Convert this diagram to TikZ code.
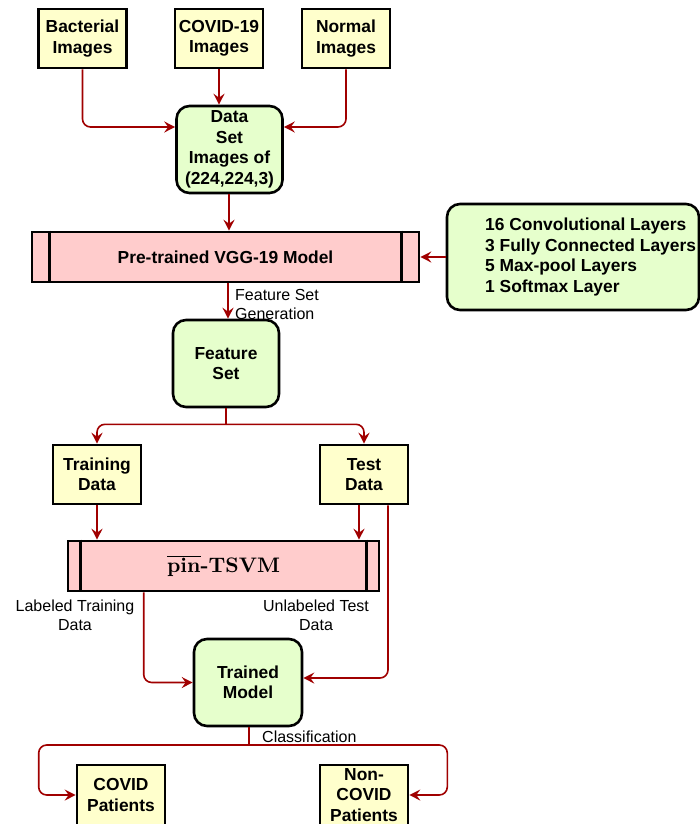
\documentclass[tikz,border=0pt]{standalone}
\usepackage{fontspec}
\newfontfamily\hv{Liberation Sans}
\newfontfamily\lmbold{lmroman10-bold.otf}
\usetikzlibrary{arrows.meta,calc}
\definecolor{yel}{RGB}{255,255,204}
\definecolor{grn}{RGB}{230,255,204}
\definecolor{pnk}{RGB}{255,204,204}
\definecolor{arr}{RGB}{160,0,0}
\tikzset{
  x=1pt, y=-1pt,
  btxt/.style={font=\hv\bfseries\fontsize{17.4}{20.5}\selectfont, align=center},
  ltxt/.style={font=\hv\fontsize{16}{19}\selectfont},
  ybox/.style={btxt, draw=black, line width=2.6pt, fill=yel, minimum width=88pt, minimum height=59pt, inner sep=0pt},
  gbox/.style={btxt, draw=black, line width=2.6pt, fill=grn, rounded corners=13pt, minimum width=106pt, minimum height=87pt, inner sep=0pt},
  pbox/.style={draw=black, line width=2.6pt, fill=pnk, inner sep=0pt},
  conn/.style={draw=arr, line width=1.6pt, rounded corners=8pt, -{Stealth[length=11pt,width=11pt,inset=4pt]}},
  plain/.style={draw=arr, line width=1.6pt, rounded corners=8pt},
}
\begin{document}
\begin{tikzpicture}
\useasboundingbox (0,0) rectangle (700,824);
% top sources
\node[ybox] (bact) at (82.5,38.5) {Bacterial\\Images};
\node[ybox] (cov) at (219,38.5) {COVID-19\\Images};
\node[ybox] (norm) at (346,38.5) {Normal\\Images};
% data set
\node[gbox] (ds) at (229.5,149.5) {Data\\Set\\Images of\\(224,224,3)};
% VGG
\node[pbox, minimum width=387pt, minimum height=50pt, btxt] (vgg) at (225.5,257) {Pre-trained VGG-19 Model};
\draw[line width=2.6pt] ([xshift=19pt]vgg.north west) -- ([xshift=19pt]vgg.south west);
\draw[line width=2.6pt] ([xshift=-19pt]vgg.north east) -- ([xshift=-19pt]vgg.south east);
% layers box
\node[gbox, minimum width=252pt, minimum height=106pt] (layers) at (573,257) {};
\node[btxt, align=left, anchor=west, inner sep=0pt] (layerstext) at (485,257) {16 Convolutional Layers\\3 Fully Connected Layers\\5 Max-pool Layers\\1 Softmax Layer};
% feature set
\node[gbox] (fs) at (226,363.5) {Feature\\Set};
% training / test
\node[ybox] (train) at (97,474.5) {Training\\Data};
\node[ybox] (test) at (364,474.5) {Test\\Data};
% pin-TSVM
\node[pbox, minimum width=311pt, minimum height=50pt, font=\lmbold\fontsize{21}{25}\selectfont] (pin) at (223.5,566) {$\overline{\hbox{\lmbold pin}}$-TSVM};
\draw[line width=2.6pt] ([xshift=14pt]pin.north west) -- ([xshift=14pt]pin.south west);
\draw[line width=2.6pt] ([xshift=-14pt]pin.north east) -- ([xshift=-14pt]pin.south east);
% trained model
\node[gbox, minimum width=108pt] (tm) at (248,682.5) {Trained\\Model};
% outputs
\node[ybox, minimum height=60pt] (covid) at (121,795) {COVID\\Patients};
\node[ybox, minimum height=60pt] (ncovid) at (364,795) {Non-\\COVID\\Patients};
% labels
\node[ltxt, align=left, anchor=west, inner sep=0pt] (lfsg) at (235,304) {Feature Set\\Generation};
\node[ltxt, align=center, inner sep=0pt] (llab) at (75,615) {Labeled Training\\Data};
\node[ltxt, align=center, inner sep=0pt] (lunl) at (316,615) {Unlabeled Test\\Data};
\node[ltxt, anchor=base west, inner sep=0pt] (lcls) at (262,742) {Classification};
% connectors
\draw[conn] (bact.south) |- ([yshift=22.5pt]ds.west);
\draw[conn] (norm.south) |- ([yshift=22.5pt]ds.east);
\draw[conn] (cov.south) -- (cov.south |- ds.north);
\draw[conn] (ds.south -| 229,0) -- (229,0 |- vgg.north);
\draw[conn] (layers.west) -- (layers.west -| vgg.east);
\draw[conn] (228,0 |- vgg.south) -- (228,0 |- fs.north);
\coordinate (s1) at ($(fs.south)+(0,16)$);
\draw[plain] (fs.south) -- (s1);
\draw[conn] (s1) -| (train.north);
\draw[conn] (s1) -| (test.north);
\draw[conn] (train.south) -- (train.south |- pin.north);
\draw[conn] ([xshift=-5pt]test.south) -- ([xshift=-5pt]test.south |- pin.north);
\draw[conn] ([xshift=24pt]test.south) |- ([yshift=4.5pt]tm.east);
\draw[conn] ([xshift=77pt]pin.south west) |- (tm.west);
\coordinate (s2) at (249,745);
\draw[plain] (tm.south -| s2) -- (s2);
\draw[conn] (s2) -| ($(covid.west)+(-37,0)$) -- (covid.west);
\draw[conn] (s2) -| ($(ncovid.east)+(38,0)$) -- (ncovid.east);
\end{tikzpicture}
\end{document}
